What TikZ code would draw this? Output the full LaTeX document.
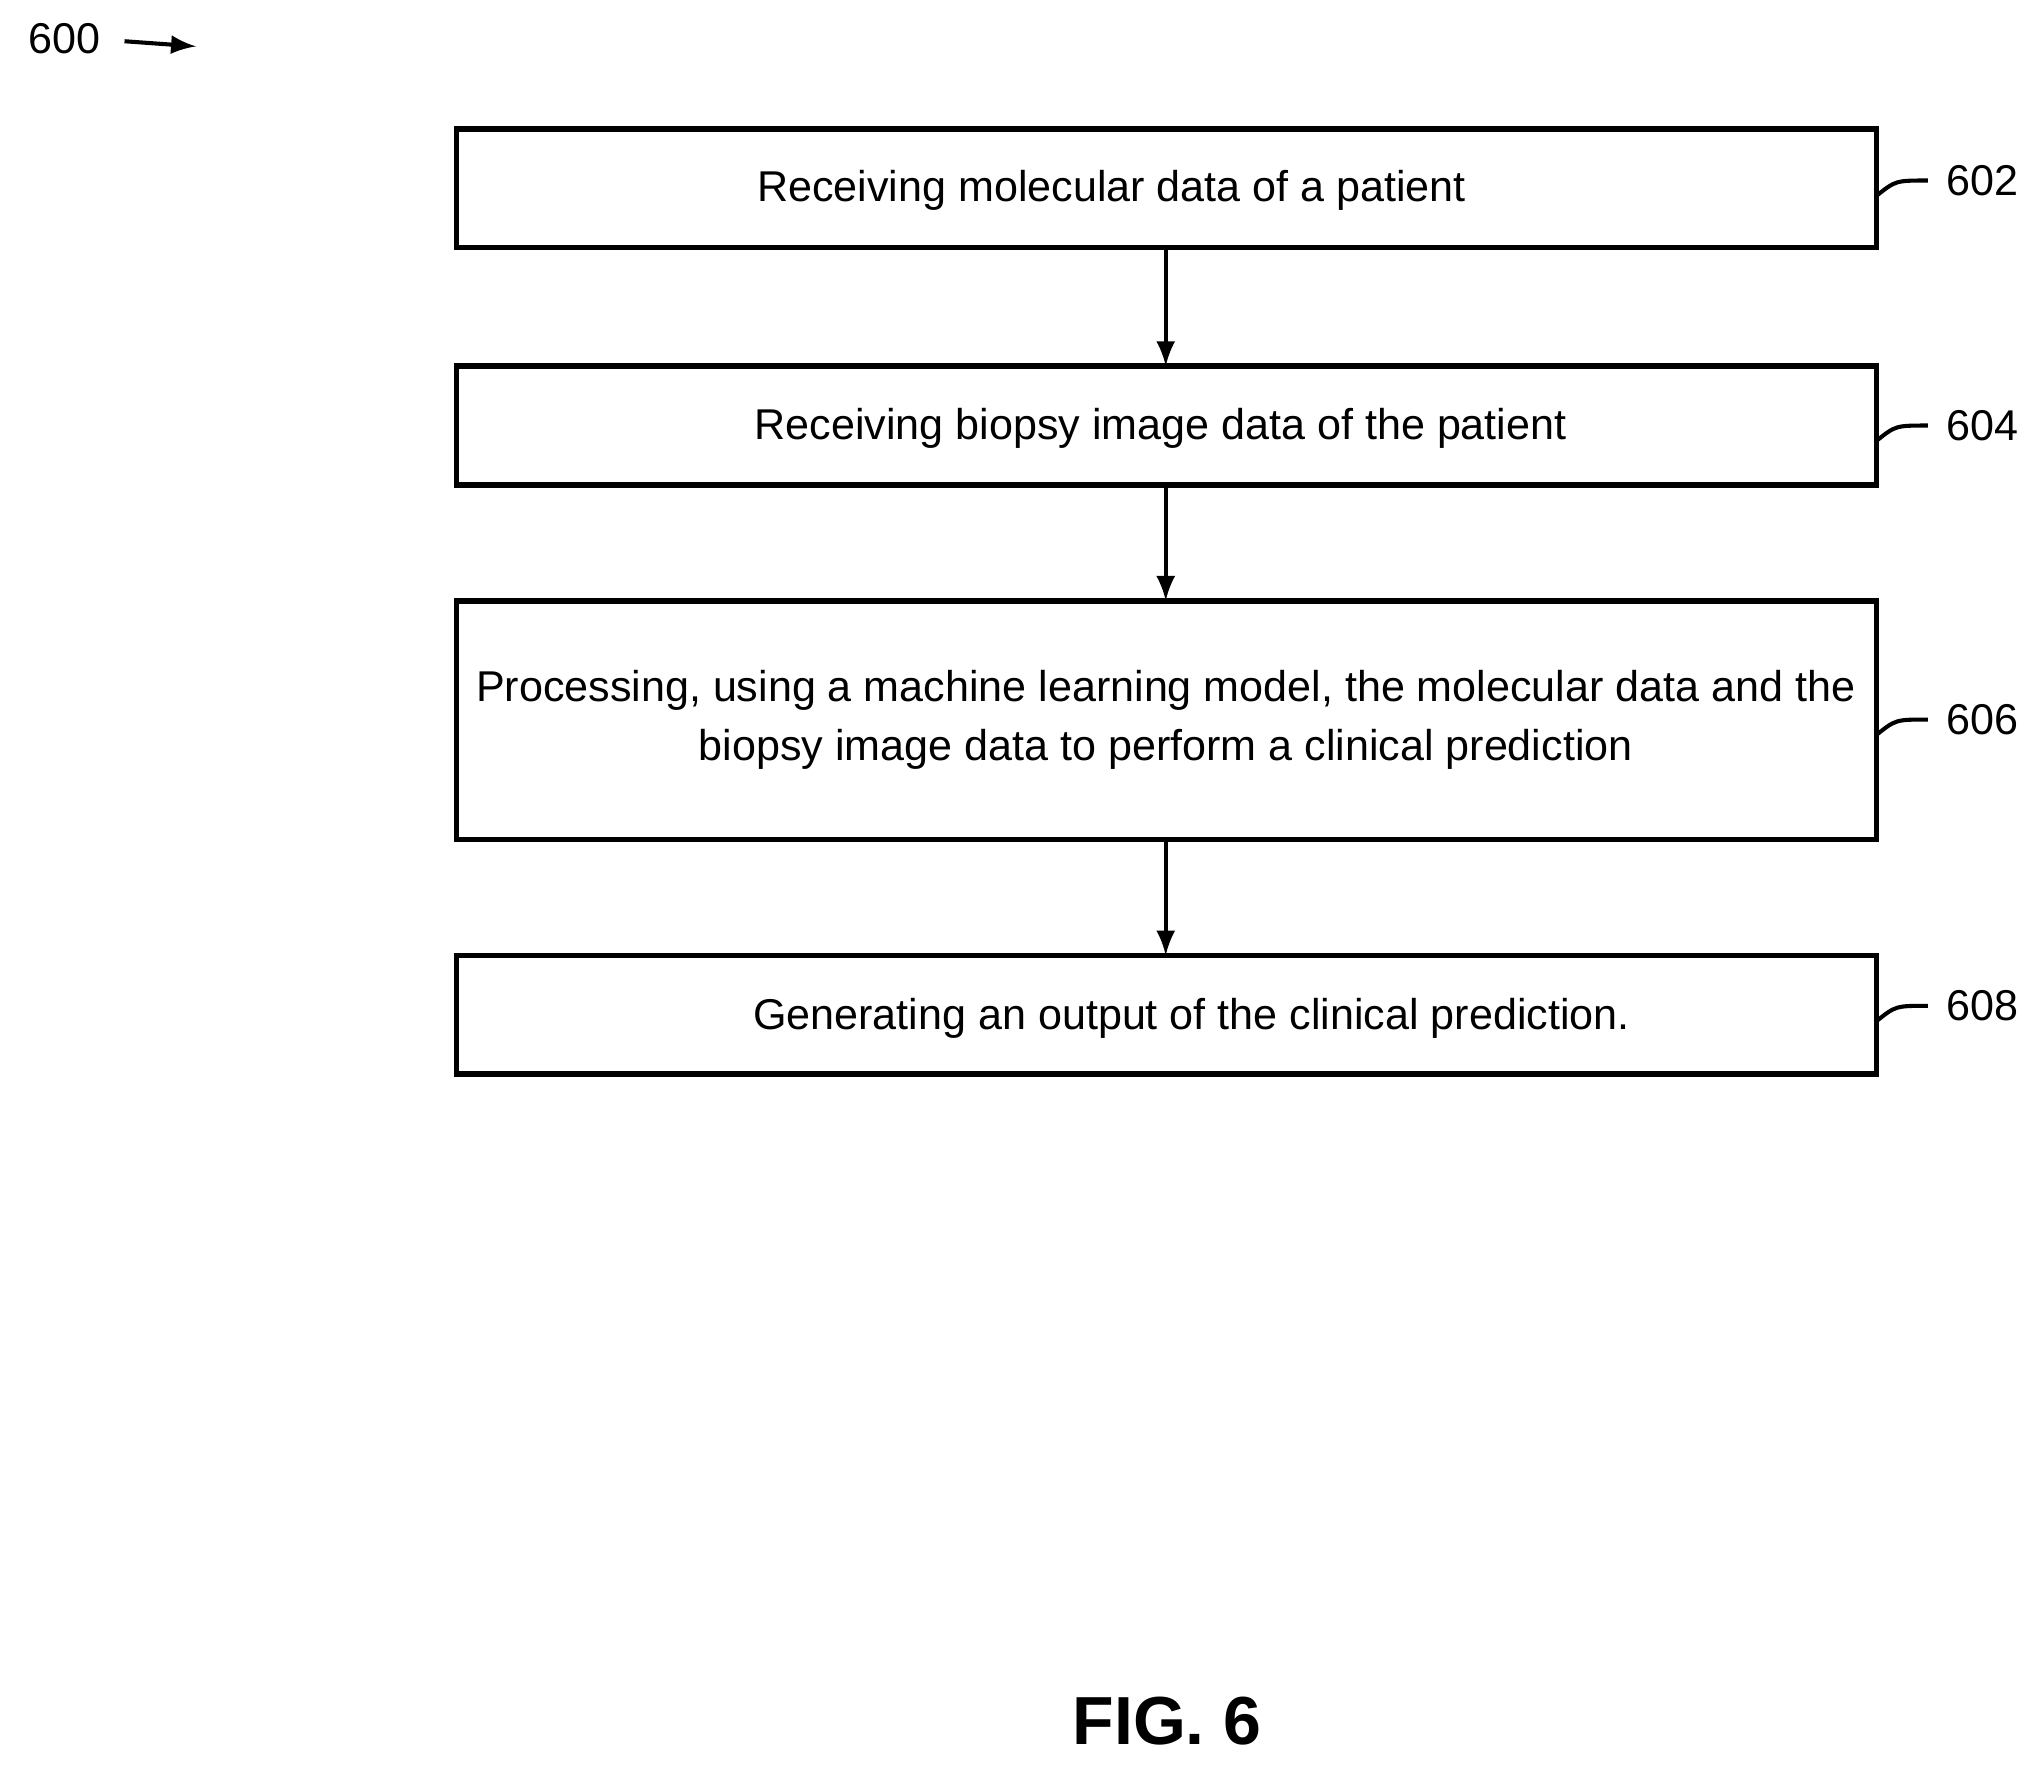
\documentclass[tikz,border=0pt]{standalone}
\usepackage{fontspec}
\setmainfont{Liberation Sans}
\begin{document}
\begin{tikzpicture}[x=0.01cm,y=-0.01cm,
 box/.style={draw,line width=1.2pt,inner sep=0pt},
 txt/.style={font=\fontsize{9.5}{13}\selectfont,align=center},
 lbl/.style={font=\fontsize{9.5}{11}\selectfont},
 arr/.style={-latex,line width=0.9pt}]
\useasboundingbox (0,0) rectangle (1568,1371);
\draw[box] (354,100) rectangle (1455,192); \node[txt] (t1) at (862,148) {Receiving molecular data of a patient};
\draw[box] (354,284) rectangle (1455,376); \node[txt] (t2) at (900,332) {Receiving biopsy image data of the patient};
\draw[box] (354,466) rectangle (1455,651); \node[txt] (t3) at (904,558) {Processing, using a machine learning model, the molecular data and the\\biopsy image data to perform a clinical prediction};
\draw[box] (354,741) rectangle (1455,833); \node[txt] (t4) at (924,790) {Generating an output of the clinical prediction.};
\coordinate (b1) at (904,192); \coordinate (a2) at (904,284);
\coordinate (b2) at (904,376); \coordinate (a3) at (904,466);
\coordinate (b3) at (904,651); \coordinate (a4) at (904,741);
\draw[arr] (b1) -- (a2); \draw[arr] (b2) -- (a3); \draw[arr] (b3) -- (a4);
\foreach \y/\n in {140/602,330/604,558/606,780/608}{
 \node[lbl,anchor=west] (L\n) at (1497,\y) {\n};
 \draw[line width=0.9pt] (1455,\y+12) .. controls (1470,\y) .. (1495,\y);
}
\node[lbl,anchor=west] (n600) at (10,30) {600};
\coordinate (e600) at (152,36);
\draw[arr] (n600.east) ++(6,2) -- (e600);
\node[font=\bfseries\fontsize{15}{18}\selectfont] (fig) at (905,1335) {FIG. 6};
\end{tikzpicture}
\end{document}
